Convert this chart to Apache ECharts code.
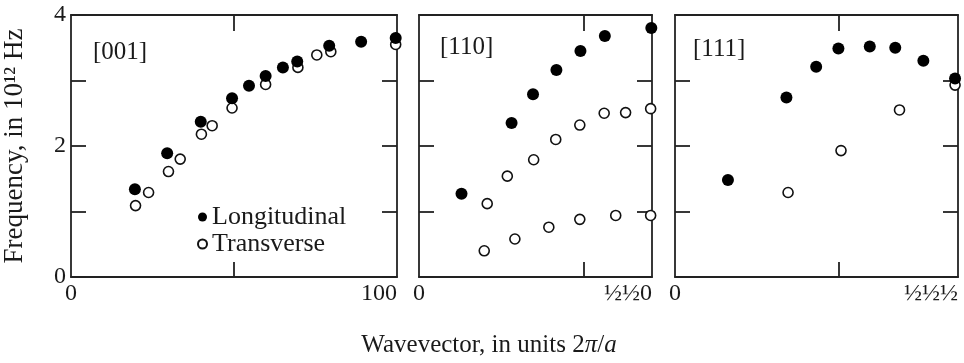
<!DOCTYPE html>
<html>
<head>
<meta charset="utf-8">
<script src="https://cdn.jsdelivr.net/npm/echarts@6/dist/echarts.min.js"></script>
<style>
  html, body { margin: 0; padding: 0; background: #fff; }
  #chart { width: 964px; height: 363px; }
</style>
</head>
<body>
<div id="chart"></div>
<script>
// Phonon dispersion of sodium along three symmetry directions.
// Wavevector magnitudes in units of 2π/a, frequencies in 10^12 Hz.

const panelNames = ['[001]', '[110]', '[111]'];
const xEnds = [1.0, 0.7071, 0.866];
const xEndLabels = ['100', '½½0', '½½½'];
const yTickLabels = ['0', '2', '4'];

// [001]
const k001Long = [0.196, 0.295, 0.398, 0.494, 0.546, 0.597, 0.650, 0.694, 0.792, 0.890, 0.996];
const f001Long = [1.34, 1.89, 2.37, 2.73, 2.92, 3.07, 3.20, 3.29, 3.53, 3.59, 3.65];
const k001Trans = [0.198, 0.238, 0.299, 0.335, 0.400, 0.433, 0.494, 0.597, 0.696, 0.754, 0.797, 0.996];
const f001Trans = [1.09, 1.29, 1.61, 1.80, 2.18, 2.31, 2.58, 2.94, 3.20, 3.39, 3.44, 3.55];

// [110]
const k110Long = [0.129, 0.281, 0.346, 0.417, 0.490, 0.564, 0.705];
const f110Long = [1.27, 2.35, 2.79, 3.16, 3.45, 3.68, 3.80];
const k110TransUpper = [0.207, 0.268, 0.348, 0.415, 0.488, 0.562, 0.627, 0.703];
const f110TransUpper = [1.12, 1.54, 1.79, 2.10, 2.32, 2.50, 2.51, 2.57];
const k110TransLower = [0.198, 0.291, 0.394, 0.488, 0.597, 0.703];
const f110TransLower = [0.40, 0.58, 0.76, 0.88, 0.94, 0.94];

// [111]
const k111Long = [0.162, 0.341, 0.432, 0.500, 0.596, 0.674, 0.760, 0.857];
const f111Long = [1.48, 2.74, 3.21, 3.49, 3.52, 3.50, 3.30, 3.03];
const k111Trans = [0.346, 0.508, 0.687, 0.857];
const f111Trans = [1.29, 1.93, 2.55, 2.93];

const zip = (xs, ys) => xs.map((x, i) => [x, ys[i]]);

const SERIF = '"Liberation Serif", "DejaVu Serif", serif';
const INK = '#1a1a1a';
const FRAME = '#222';

const grids = [
  { left: 67, top: 15, width: 330, height: 262 },
  { left: 419, top: 15, width: 233, height: 262 },
  { left: 675, top: 15, width: 283, height: 262 }
];

const lineStyle = { show: true, onZero: false, lineStyle: { color: FRAME, width: 1.8 } };
const tickStyle = (len) => ({ show: true, inside: true, length: len, lineStyle: { color: FRAME, width: 1.8 } });

const xAxes = [];
const yAxes = [];
grids.forEach((g, i) => {
  // bottom axis with labels
  xAxes.push({
    type: 'value', gridIndex: i, position: 'bottom', min: 0, max: xEnds[i],
    axisLine: lineStyle,
    axisTick: Object.assign(tickStyle(15), { customValues: [0.5] }),
    axisLabel: {
      show: true, customValues: [0, xEnds[i]], margin: 5,
      fontFamily: SERIF, fontSize: 24, color: INK,
      alignMaxLabel: 'right',
      formatter: (v) => (v === 0 ? '0' : xEndLabels[i])
    },
    splitLine: { show: false }
  });
  yAxes.push({
    type: 'value', gridIndex: i, position: 'left', min: 0, max: 4, interval: 1,
    axisLine: lineStyle,
    axisTick: tickStyle(15),
    axisLabel: {
      show: i === 0, margin: 5, fontFamily: SERIF, fontSize: 24, color: INK,
      formatter: (v) => (v % 2 === 0 ? yTickLabels[v / 2] : '')
    },
    splitLine: { show: false },
    name: i === 0 ? 'Frequency, in 10¹² Hz' : '',
    nameLocation: 'middle', nameGap: 43, nameRotate: 90,
    nameTextStyle: { fontFamily: SERIF, fontSize: 27, color: INK }
  });
});
grids.forEach((g, i) => {
  // opposite frame sides, ticks only
  xAxes.push({
    type: 'value', gridIndex: i, position: 'top', min: 0, max: xEnds[i],
    axisLine: lineStyle,
    axisTick: Object.assign(tickStyle(16), { customValues: [0.5] }),
    axisLabel: { show: false }, splitLine: { show: false }
  });
  yAxes.push({
    type: 'value', gridIndex: i, position: 'right', min: 0, max: 4, interval: 1,
    axisLine: lineStyle, axisTick: tickStyle(15),
    axisLabel: { show: false }, splitLine: { show: false }
  });
});

const filled = { color: '#000', borderColor: '#000', borderWidth: 0, opacity: 1 };
const hollow = { color: '#fff', borderColor: '#111', borderWidth: 1.6, opacity: 1 };

function scatter(name, grid, data, style, size) {
  return {
    type: 'scatter', name: name, xAxisIndex: grid, yAxisIndex: grid,
    data: data, symbol: 'circle', symbolSize: size, itemStyle: style,
    emphasis: { disabled: true }, z: style === filled ? 3 : 2
  };
}

const series = [
  scatter('Transverse', 0, zip(k001Trans, f001Trans), hollow, 10),
  scatter('Longitudinal', 0, zip(k001Long, f001Long), filled, 12),
  scatter('Longitudinal', 1, zip(k110Long, f110Long), filled, 12),
  scatter('Transverse', 1, zip(k110TransUpper, f110TransUpper), hollow, 10),
  scatter('Transverse', 1, zip(k110TransLower, f110TransLower), hollow, 10),
  scatter('Longitudinal', 2, zip(k111Long, f111Long), filled, 12),
  scatter('Transverse', 2, zip(k111Trans, f111Trans), hollow, 10)
];

const titlePos = [[93, 40], [440, 35], [693, 37]];

const chart = echarts.init(document.getElementById('chart'), null, { renderer: 'canvas' });
chart.setOption({
  backgroundColor: '#fff',
  animation: false,
  title: panelNames.map((t, i) => ({
    text: t, left: titlePos[i][0], top: titlePos[i][1], padding: 0,
    textStyle: { fontFamily: SERIF, fontSize: 25, fontWeight: 'normal', color: INK }
  })),
  legend: {
    data: ['Longitudinal', 'Transverse'],
    orient: 'vertical', left: 197, top: 204, padding: 0, itemGap: 1,
    itemWidth: 9, itemHeight: 9, icon: 'circle',
    textStyle: { fontFamily: SERIF, fontSize: 26, color: INK, lineHeight: 26 },
    selectedMode: false
  },
  grid: grids,
  xAxis: xAxes,
  yAxis: yAxes,
  series: series,
  graphic: [{
    type: 'text', x: 489, y: 345,
    style: {
      text: 'Wavevector, in units 2{i|π}/{i|a}',
      fontFamily: SERIF, fontSize: 25, fill: INK,
      align: 'center', verticalAlign: 'middle',
      rich: { i: { fontFamily: SERIF, fontSize: 25, fontStyle: 'italic', color: INK } }
    }
  }]
});
</script>
</body>
</html>
